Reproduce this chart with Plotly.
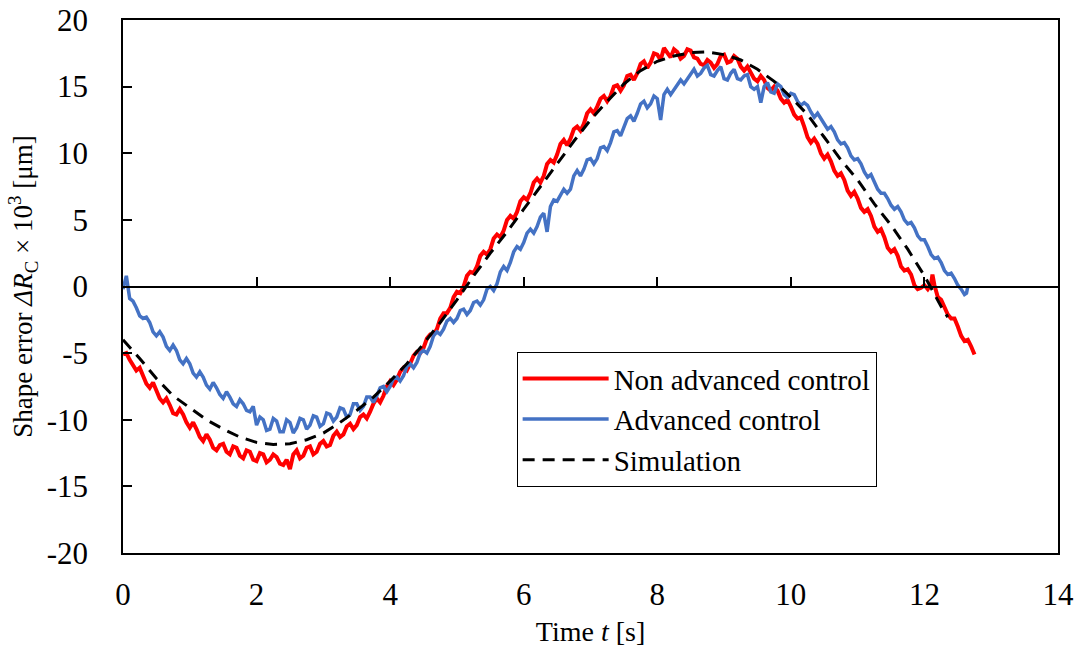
import plotly.graph_objects as go

# ---------------- data ----------------
red_t = [0.00, 0.05, 0.10, 0.15, 0.20, 0.25, 0.30, 0.35, 0.40, 0.45,
         0.50, 0.55, 0.60, 0.65, 0.70, 0.75, 0.80, 0.85, 0.90, 0.95,
         1.00, 1.05, 1.10, 1.15, 1.20, 1.25, 1.30, 1.35, 1.40, 1.45,
         1.50, 1.55, 1.60, 1.65, 1.70, 1.75, 1.80, 1.85, 1.90, 1.95,
         2.00, 2.05, 2.10, 2.15, 2.20, 2.25, 2.30, 2.35, 2.40, 2.45,
         2.50, 2.55, 2.60, 2.65, 2.70, 2.75, 2.80, 2.85, 2.90, 2.95,
         3.00, 3.05, 3.10, 3.15, 3.20, 3.25, 3.30, 3.35, 3.40, 3.45,
         3.50, 3.55, 3.60, 3.65, 3.70, 3.75, 3.80, 3.85, 3.90, 3.95,
         4.00, 4.05, 4.10, 4.15, 4.20, 4.25, 4.30, 4.35, 4.40, 4.45,
         4.50, 4.55, 4.60, 4.65, 4.70, 4.75, 4.80, 4.85, 4.90, 4.95,
         5.00, 5.05, 5.10, 5.15, 5.20, 5.25, 5.30, 5.35, 5.40, 5.45,
         5.50, 5.55, 5.60, 5.65, 5.70, 5.75, 5.80, 5.85, 5.90, 5.95,
         6.00, 6.05, 6.10, 6.15, 6.20, 6.25, 6.30, 6.35, 6.40, 6.45,
         6.50, 6.55, 6.60, 6.65, 6.70, 6.75, 6.80, 6.85, 6.90, 6.95,
         7.00, 7.05, 7.10, 7.15, 7.20, 7.25, 7.30, 7.35, 7.40, 7.45,
         7.50, 7.55, 7.60, 7.65, 7.70, 7.75, 7.80, 7.85, 7.90, 7.95,
         8.00, 8.05, 8.10, 8.15, 8.20, 8.25, 8.30, 8.35, 8.40, 8.45,
         8.50, 8.55, 8.60, 8.65, 8.70, 8.75, 8.80, 8.85, 8.90, 8.95,
         9.00, 9.05, 9.10, 9.15, 9.20, 9.25, 9.30, 9.35, 9.40, 9.45,
         9.50, 9.55, 9.60, 9.65, 9.70, 9.75, 9.80, 9.85, 9.90, 9.95,
         10.00, 10.05, 10.10, 10.15, 10.20, 10.25, 10.30, 10.35, 10.40, 10.45,
         10.50, 10.55, 10.60, 10.65, 10.70, 10.75, 10.80, 10.85, 10.90, 10.95,
         11.00, 11.05, 11.10, 11.15, 11.20, 11.25, 11.30, 11.35, 11.40, 11.45,
         11.50, 11.55, 11.60, 11.65, 11.70, 11.75, 11.80, 11.85, 11.90, 11.95,
         12.00, 12.05, 12.10, 12.12, 12.15, 12.20, 12.25, 12.30, 12.35, 12.40,
         12.45, 12.50, 12.55, 12.60, 12.65, 12.70, 12.75]
red_v = [-5.1, -5.0, -5.5, -5.9, -6.3, -6.1, -6.7, -7.3, -7.6, -7.2,
         -7.8, -8.4, -8.7, -8.4, -8.9, -9.5, -9.6, -9.2, -9.6, -10.2,
         -10.6, -10.2, -10.7, -11.3, -11.6, -11.1, -11.5, -12.1, -12.3, -11.9,
         -11.8, -12.4, -12.6, -12.0, -12.1, -12.7, -12.9, -12.3, -12.4, -13.0,
         -13.1, -12.5, -12.6, -13.2, -13.0, -12.6, -12.8, -13.3, -13.4, -13.0,
         -13.7, -12.6, -12.3, -12.9, -12.7, -12.1, -12.0, -12.6, -12.4, -11.8,
         -11.6, -12.0, -11.9, -11.2, -10.9, -11.3, -11.1, -10.5, -10.3, -10.7,
         -10.4, -9.8, -9.6, -9.9, -9.4, -8.8, -8.4, -8.7, -8.2, -7.5,
         -7.1, -7.4, -7.0, -6.4, -6.1, -6.3, -5.8, -5.2, -4.9, -5.0,
         -4.6, -3.9, -3.6, -3.6, -3.2, -2.4, -2.0, -2.0, -1.6, -0.8,
         -0.4, -0.5, 0.0, 0.8, 1.1, 1.0, 1.5, 2.3, 2.6, 2.4,
         2.8, 3.6, 3.9, 3.7, 4.2, 5.0, 5.3, 5.1, 5.6, 6.4,
         6.7, 6.5, 7.0, 7.8, 8.1, 7.8, 8.3, 9.2, 9.5, 9.3,
         9.9, 10.7, 11.0, 10.6, 11.1, 11.8, 12.0, 11.7, 12.2, 13.0,
         13.3, 13.0, 13.5, 14.1, 14.3, 13.9, 14.3, 15.0, 15.1, 14.7,
         15.1, 15.8, 15.9, 15.5, 16.0, 16.7, 16.9, 16.4, 16.8, 17.5,
         17.4, 17.0, 17.9, 17.6, 17.2, 17.8, 17.6, 17.1, 17.3, 17.8,
         17.7, 17.2, 17.1, 16.7, 16.6, 17.0, 16.8, 16.4, 16.7, 17.3,
         17.4, 16.8, 16.9, 17.3, 17.1, 16.5, 16.2, 16.5, 16.1, 15.6,
         15.4, 15.8, 15.5, 14.9, 14.7, 15.0, 14.7, 14.1, 13.8, 14.0,
         13.5, 12.9, 12.6, 12.7, 12.0, 11.2, 10.8, 11.1, 10.7, 10.0,
         9.6, 9.9, 9.4, 8.7, 8.3, 8.5, 8.0, 7.2, 6.8, 7.1,
         6.6, 5.9, 5.6, 5.8, 5.3, 4.5, 4.1, 4.3, 3.7, 2.9,
         2.6, 2.8, 2.3, 1.5, 1.2, 1.3, 0.9, 0.1, -0.2, -0.1,
         0.1, -0.2, 0.2, 0.9, 0.1, -0.8, -1.0, -1.5, -2.1, -2.4,
         -2.4, -3.0, -3.7, -4.1, -4.0, -4.5, -5.1]

blue_t = [0.00, 0.05, 0.10, 0.15, 0.20, 0.25, 0.30, 0.35, 0.40, 0.45,
          0.50, 0.55, 0.60, 0.65, 0.70, 0.75, 0.80, 0.85, 0.90, 0.95,
          1.00, 1.05, 1.10, 1.15, 1.20, 1.25, 1.30, 1.35, 1.40, 1.45,
          1.50, 1.55, 1.60, 1.65, 1.70, 1.75, 1.80, 1.85, 1.90, 1.95,
          2.00, 2.05, 2.10, 2.15, 2.20, 2.25, 2.30, 2.35, 2.40, 2.45,
          2.50, 2.55, 2.60, 2.65, 2.70, 2.75, 2.80, 2.85, 2.90, 2.95,
          3.00, 3.05, 3.10, 3.15, 3.20, 3.25, 3.30, 3.35, 3.40, 3.45,
          3.50, 3.55, 3.60, 3.65, 3.70, 3.75, 3.80, 3.85, 3.90, 3.95,
          4.00, 4.05, 4.10, 4.15, 4.20, 4.25, 4.30, 4.35, 4.40, 4.45,
          4.50, 4.55, 4.60, 4.65, 4.70, 4.75, 4.80, 4.85, 4.90, 4.95,
          5.00, 5.05, 5.10, 5.15, 5.20, 5.25, 5.30, 5.35, 5.40, 5.45,
          5.50, 5.55, 5.60, 5.65, 5.70, 5.75, 5.80, 5.85, 5.90, 5.95,
          6.00, 6.05, 6.10, 6.15, 6.20, 6.25, 6.30, 6.35, 6.40, 6.45,
          6.50, 6.55, 6.60, 6.65, 6.70, 6.75, 6.80, 6.85, 6.90, 6.95,
          7.00, 7.05, 7.10, 7.15, 7.20, 7.25, 7.30, 7.35, 7.40, 7.45,
          7.50, 7.55, 7.60, 7.65, 7.70, 7.75, 7.80, 7.85, 7.90, 7.95,
          8.00, 8.05, 8.10, 8.15, 8.20, 8.25, 8.30, 8.35, 8.40, 8.45,
          8.50, 8.55, 8.60, 8.65, 8.70, 8.75, 8.80, 8.85, 8.90, 8.95,
          9.00, 9.05, 9.10, 9.15, 9.20, 9.25, 9.30, 9.35, 9.40, 9.45,
          9.50, 9.55, 9.60, 9.65, 9.70, 9.75, 9.80, 9.85, 9.90, 9.95,
          10.00, 10.05, 10.10, 10.15, 10.20, 10.25, 10.30, 10.35, 10.40, 10.45,
          10.50, 10.55, 10.60, 10.65, 10.70, 10.75, 10.80, 10.85, 10.90, 10.95,
          11.00, 11.05, 11.10, 11.15, 11.20, 11.25, 11.30, 11.35, 11.40, 11.45,
          11.50, 11.55, 11.60, 11.65, 11.70, 11.75, 11.80, 11.85, 11.90, 11.95,
          12.00, 12.05, 12.10, 12.15, 12.20, 12.25, 12.30, 12.35, 12.40, 12.45,
          12.50, 12.55, 12.60, 12.63, 12.65]
blue_v = [-0.2, 0.8, -0.9, -1.1, -1.6, -2.2, -2.4, -2.3, -2.7, -3.4,
          -3.7, -3.4, -3.8, -4.5, -4.8, -4.4, -4.8, -5.5, -5.8, -5.4,
          -5.8, -6.5, -6.8, -6.4, -6.8, -7.4, -7.7, -7.2, -7.6, -8.1,
          -8.4, -7.9, -8.3, -8.8, -9.0, -8.5, -8.8, -9.3, -9.4, -9.0,
          -10.4, -9.8, -10.0, -10.8, -10.7, -9.9, -10.1, -10.9, -10.9, -10.0,
          -10.2, -11.0, -10.6, -9.9, -10.0, -10.7, -10.4, -9.7, -9.8, -10.5,
          -10.3, -9.5, -9.6, -10.1, -9.8, -9.1, -9.2, -9.8, -9.6, -8.8,
          -8.8, -9.3, -9.0, -8.3, -8.3, -8.7, -8.2, -7.6, -7.5, -7.9,
          -7.5, -6.9, -6.8, -7.1, -6.7, -6.0, -5.8, -6.1, -5.7, -5.0,
          -4.8, -5.0, -4.5, -3.7, -3.4, -3.6, -3.2, -2.6, -2.4, -2.7,
          -2.4, -1.8, -1.7, -2.1, -1.8, -1.2, -1.1, -1.4, -1.0, -0.2,
          0.0, -0.3, 0.2, 1.1, 1.5, 1.2, 1.8, 2.6, 3.0, 2.8,
          3.3, 4.0, 4.3, 4.0, 4.5, 5.2, 5.5, 4.1, 6.0, 6.5,
          6.4, 6.9, 7.3, 7.0, 7.3, 8.3, 8.7, 8.3, 8.8, 9.5,
          9.6, 9.2, 9.6, 10.4, 10.5, 10.2, 10.8, 11.6, 11.7, 11.3,
          11.9, 12.6, 12.8, 12.4, 13.0, 13.7, 13.9, 13.4, 13.7, 14.3,
          14.1, 12.5, 14.4, 14.8, 14.4, 14.8, 15.2, 15.5, 15.2, 15.6,
          16.0, 16.3, 15.8, 16.0, 16.4, 16.6, 15.9, 15.8, 16.2, 16.5,
          15.6, 15.5, 16.0, 16.3, 15.6, 15.5, 15.8, 15.9, 15.0, 14.8,
          15.0, 13.8, 15.0, 15.3, 14.6, 14.5, 15.2, 15.0, 14.4, 14.2,
          14.5, 14.4, 13.9, 13.6, 13.8, 13.6, 13.1, 12.7, 13.0, 12.6,
          12.1, 11.8, 12.0, 11.6, 11.0, 10.7, 10.8, 10.4, 9.8, 9.5,
          9.6, 9.2, 8.6, 8.2, 8.4, 7.9, 7.3, 7.0, 7.0, 6.6,
          6.1, 5.8, 6.0, 5.6, 5.0, 4.7, 4.8, 4.4, 3.8, 3.5,
          3.5, 3.0, 2.4, 2.1, 2.2, 1.8, 1.2, 0.9, 1.0, 0.6,
          0.1, -0.2, -0.6, -0.5, 0.0]

sim_t = [0.0, 0.25, 0.5, 0.75, 1.0, 1.25, 1.5, 1.75, 2.0, 2.25, 2.5, 2.75,
         3.0, 3.25, 3.5, 3.75, 4.0, 4.25, 4.5, 4.75, 5.0, 5.25, 5.5, 5.75,
         6.0, 6.25, 6.5, 6.75, 7.0, 7.25, 7.5, 7.75, 8.0, 8.25, 8.5, 8.75,
         9.0, 9.25, 9.5, 9.75, 10.0, 10.25, 10.5, 10.75, 11.0, 11.25, 11.5,
         11.75, 12.0, 12.25, 12.35]
sim_v = [-4.0, -5.4, -6.9, -8.2, -9.1, -10.0, -10.7, -11.3, -11.7, -11.85, -11.8, -11.5,
         -11.0, -10.2, -9.3, -8.3, -7.1, -5.8, -4.3, -2.7, -1.0, 0.8, 2.5, 4.1,
         5.8, 7.5, 9.2, 10.9, 12.5, 13.9, 15.2, 16.2, 16.9, 17.3, 17.55, 17.6,
         17.4, 17.0, 16.3, 15.4, 14.2, 12.9, 11.2, 9.5, 8.0, 6.2, 4.6,
         2.8, 0.8, -1.5, -2.3]

series_names = ["Non advanced control", "Advanced control", "Simulation"]

x_tick_vals = [0, 2, 4, 6, 8, 10, 12, 14]
x_tick_text = ["0", "2", "4", "6", "8", "10", "12", "14"]
y_tick_vals = [-20, -15, -10, -5, 0, 5, 10, 15, 20]
y_tick_text = ["-20", "-15", "-10", "-5", "0", "5", "10", "15", "20"]

# ---------------- figure ----------------
FONT = "Liberation Serif, Times New Roman, serif"

fig = go.Figure()
fig.add_trace(go.Scatter(x=red_t, y=red_v, mode="lines", name=series_names[0],
                         line=dict(color="#FF0000", width=4)))
fig.add_trace(go.Scatter(x=blue_t, y=blue_v, mode="lines", name=series_names[1],
                         line=dict(color="#4472C4", width=3.5)))
fig.add_trace(go.Scatter(x=sim_t, y=sim_v, mode="lines", name=series_names[2],
                         line=dict(color="black", width=3, dash="12px,8px")))
# empty trace so the zero-line axis (with upward ticks) is drawn
fig.add_trace(go.Scatter(x=[], y=[], xaxis="x2", showlegend=False, hoverinfo="skip"))

fig.update_layout(
    width=1080, height=648,
    margin=dict(l=123, r=22, t=20, b=95),
    paper_bgcolor="white", plot_bgcolor="white",
    font=dict(family=FONT, color="black"),
    showlegend=True,
    legend=dict(
        x=0.421, y=0.377, xanchor="left", yanchor="top",
        bordercolor="black", borderwidth=1, bgcolor="white",
        font=dict(family=FONT, size=29, color="black"),
        tracegroupgap=0, itemwidth=86,
    ),
    xaxis=dict(
        range=[0, 14], tickmode="array", tickvals=x_tick_vals, ticktext=x_tick_text,
        showline=True, linecolor="black", linewidth=1.5, mirror=True,
        ticks="", showgrid=False, zeroline=False, automargin=False,
        tickfont=dict(family=FONT, size=31, color="black"),
        ticklabelstandoff=13,
        title=dict(text="Time <i>t</i> [s]", font=dict(family=FONT, size=28, color="black"), standoff=10),
    ),
    xaxis2=dict(
        range=[0, 14], overlaying="x", anchor="free", position=0.5, side="bottom",
        tickmode="array", tickvals=x_tick_vals, ticks="inside", ticklen=9, tickwidth=1.5,
        tickcolor="black", showline=True, linecolor="black", linewidth=1.5,
        showticklabels=False, showgrid=False, zeroline=False, automargin=False,
    ),
    yaxis=dict(
        range=[-20, 20], tickmode="array", tickvals=y_tick_vals, ticktext=y_tick_text,
        showline=True, linecolor="black", linewidth=1.5, mirror=True,
        ticks="inside", ticklen=9, tickwidth=1.5, tickcolor="black",
        showgrid=False, zeroline=False, automargin=False,
        tickfont=dict(family=FONT, size=31, color="black"),
        ticklabelstandoff=27,
        title=dict(text="Shape error <i>ΔR</i><sub>C</sub> × 10<sup>3</sup> [μm]",
                   font=dict(family=FONT, size=27, color="black"), standoff=6),
    ),
)

fig.write_html("out.html")
